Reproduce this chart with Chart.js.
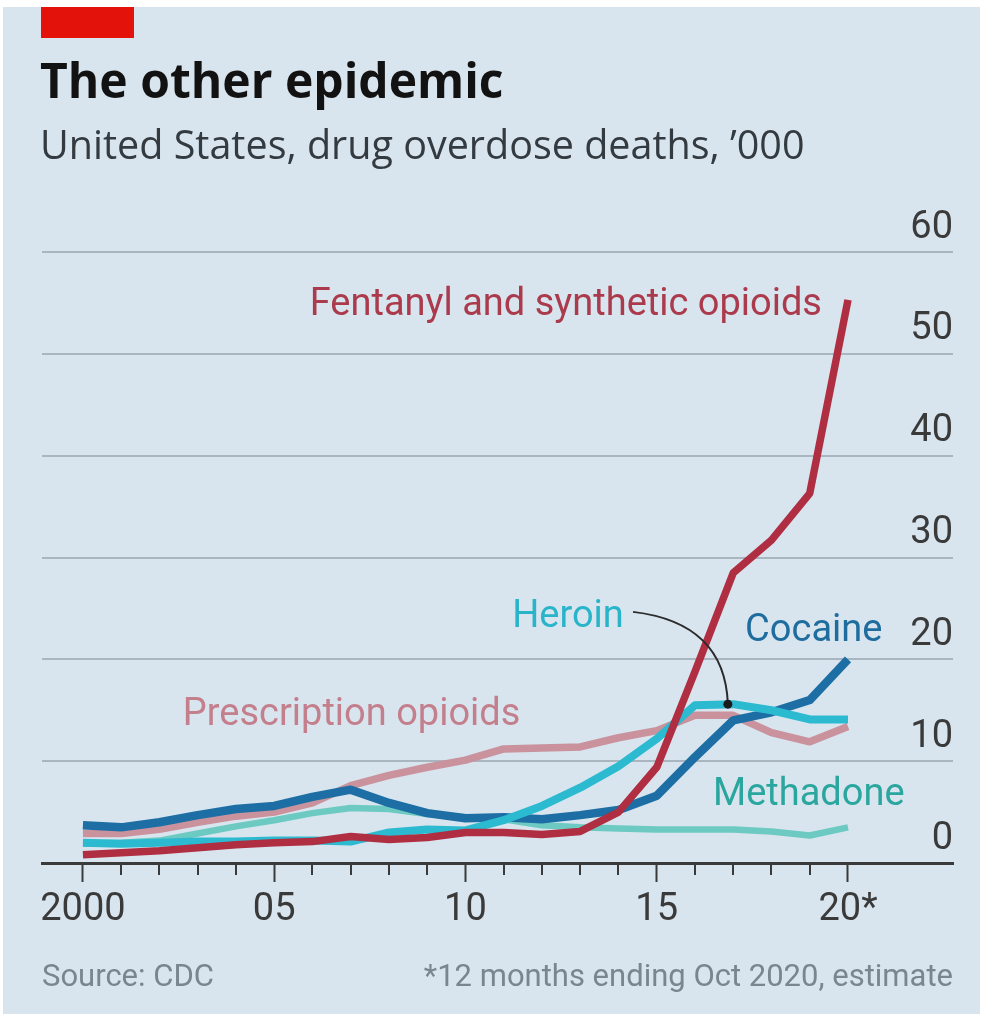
<!DOCTYPE html>
<html>
<head>
<meta charset="utf-8">
<script src="https://cdn.jsdelivr.net/npm/chart.js@4.4.1/dist/chart.umd.min.js"></script>
<style>
  html, body { margin: 0; padding: 0; background: #fff; }
  #panel { position: absolute; left: 3px; top: 7px; width: 977px; height: 1007px; background: #d8e5ee; }
  #redbar { position: absolute; left: 41px; top: 7px; width: 93px; height: 31px; background: #e3120b; }
  #chart { position: absolute; left: 0; top: 0; }
</style>
</head>
<body>
<div id="panel"></div>
<div id="redbar"></div>
<canvas id="chart" width="986" height="1020"></canvas>
<script>
// deaths, thousands
const years = [2000, 2001, 2002, 2003, 2004, 2005, 2006, 2007, 2008, 2009, 2010,
               2011, 2012, 2013, 2014, 2015, 2016, 2017, 2018, 2019, 2020];
const fentanyl     = [0.8, 1.0, 1.2, 1.5, 1.8, 2.0, 2.1, 2.6, 2.3, 2.5, 3.0, 3.0, 2.8, 3.1, 5.0, 9.4, 18.8, 28.5, 31.7, 36.3, 55.3];
const heroin       = [2.0, 1.9, 2.0, 2.1, 2.1, 2.2, 2.2, 2.1, 3.0, 3.3, 3.2, 4.2, 5.6, 7.4, 9.5, 12.2, 15.5, 15.6, 15.0, 14.1, 14.1];
const cocaine      = [3.7, 3.5, 4.0, 4.7, 5.3, 5.6, 6.5, 7.2, 5.9, 4.9, 4.4, 4.5, 4.3, 4.7, 5.2, 6.6, 10.4, 14.0, 14.8, 16.0, 20.0];
const methadone    = [1.9, 2.0, 2.2, 2.9, 3.6, 4.2, 4.9, 5.4, 5.3, 4.8, 4.5, 4.3, 3.7, 3.5, 3.4, 3.3, 3.3, 3.3, 3.1, 2.7, 3.5];
const prescription = [2.9, 2.9, 3.3, 4.0, 4.6, 5.0, 5.9, 7.6, 8.6, 9.4, 10.1, 11.2, 11.3, 11.4, 12.3, 13.0, 14.5, 14.5, 12.8, 11.9, 13.4];

const majorYears = [2000, 2005, 2010, 2015, 2020];
const majorLabels = ['2000', '05', '10', '15', '20*'];
const yTicks = [0, 10, 20, 30, 40, 50, 60];

const titleText = 'The other epidemic';
const subtitleText = 'United States, drug overdose deaths, \u2019000';
const sourceText = 'Source: CDC';
const noteText = '*12 months ending Oct 2020, estimate';

// series names, anchored in data units
const seriesLabels = [
  { text: 'Fentanyl and synthetic opioids', year: 2019.32, value: 53.8, color: '#ab3a4c', align: 'right' },
  { text: 'Heroin', year: 2011.22, value: 23.2, color: '#2ab4ca', align: 'left' },
  { text: 'Cocaine', year: 2017.31, value: 21.8, color: '#1f6c9f', align: 'left' },
  { text: 'Prescription opioids', year: 2002.61, value: 13.6, color: '#c47f8d', align: 'left' },
  { text: 'Methadone', year: 2016.47, value: 5.7, color: '#2aa69e', align: 'left' }
];
const heroinPointer = { from: [2014.38, 24.66], ctrl: [2016.78, 23.6], to: [2016.86, 15.6] };

const LABEL_FONT = 'Roboto, "Noto Sans", sans-serif';
const HEAD_FONT = '"Open Sans", Lato, sans-serif';
const INK = '#3a3a3a';

const toXY = (arr) => arr.map((v, i) => ({ x: years[i], y: v }));

const annotations = {
  id: 'annotations',
  afterDraw(chart) {
    const ctx = chart.ctx;
    const xs = chart.scales.x, ys = chart.scales.y;

    // minor year ticks
    ctx.save();
    ctx.strokeStyle = INK;
    ctx.lineWidth = 2;
    const base = chart.chartArea.bottom;
    years.forEach(yr => {
      if (majorYears.includes(yr)) return;
      const px = Math.round(xs.getPixelForValue(yr));
      ctx.beginPath();
      ctx.moveTo(px, base);
      ctx.lineTo(px, base + 12);
      ctx.stroke();
    });
    ctx.restore();

    // series labels
    ctx.save();
    ctx.font = '38px ' + LABEL_FONT;
    ctx.textBaseline = 'alphabetic';
    seriesLabels.forEach(l => {
      ctx.fillStyle = l.color;
      ctx.textAlign = l.align;
      ctx.fillText(l.text, xs.getPixelForValue(l.year), ys.getPixelForValue(l.value));
    });
    ctx.restore();

    // heroin pointer
    const p = (pt) => [xs.getPixelForValue(pt[0]), ys.getPixelForValue(pt[1])];
    const a = p(heroinPointer.from), c = p(heroinPointer.ctrl), b = p(heroinPointer.to);
    ctx.save();
    ctx.strokeStyle = '#2b2b2b';
    ctx.lineWidth = 2;
    ctx.beginPath();
    ctx.moveTo(a[0], a[1]);
    ctx.quadraticCurveTo(c[0], c[1], b[0], b[1]);
    ctx.stroke();
    ctx.fillStyle = '#1b1b1b';
    ctx.beginPath();
    ctx.arc(b[0], b[1], 4.5, 0, Math.PI * 2);
    ctx.fill();
    ctx.restore();

    // headings and footer
    ctx.save();
    ctx.textBaseline = 'alphabetic';
    ctx.textAlign = 'left';
    ctx.fillStyle = '#121212';
    ctx.font = 'bold 48px ' + HEAD_FONT;
    ctx.fillText(titleText, 40, 98);
    ctx.fillStyle = '#333a40';
    ctx.font = '39.5px ' + HEAD_FONT;
    ctx.fillText(subtitleText, 40, 159);
    ctx.fillStyle = '#7b858d';
    ctx.font = '31px ' + LABEL_FONT;
    ctx.fillText(sourceText, 42, 986);
    ctx.textAlign = 'right';
    ctx.fillText(noteText, 953, 986);
    ctx.restore();
  }
};

new Chart(document.getElementById('chart'), {
  type: 'line',
  data: {
    datasets: [
      { label: 'Fentanyl and synthetic opioids', data: toXY(fentanyl), borderColor: '#b02e42', borderWidth: 7.5, order: 1 },
      { label: 'Heroin', data: toXY(heroin), borderColor: '#2bbad0', borderWidth: 8, order: 2 },
      { label: 'Cocaine', data: toXY(cocaine), borderColor: '#1c6ea4', borderWidth: 8.5, order: 3 },
      { label: 'Methadone', data: toXY(methadone), borderColor: '#6ccac2', borderWidth: 6.5, order: 4 },
      { label: 'Prescription opioids', data: toXY(prescription), borderColor: '#c9929c', borderWidth: 7.5, order: 5 }
    ]
  },
  options: {
    responsive: false,
    animation: false,
    events: [],
    layout: { padding: { left: 42, right: 33, top: 252, bottom: 57 } },
    elements: {
      point: { radius: 0 },
      line: { tension: 0, borderJoinStyle: 'round', borderCapStyle: 'butt', fill: false }
    },
    plugins: {
      legend: { display: false },
      tooltip: { enabled: false },
      title: { display: false }
    },
    scales: {
      x: {
        type: 'linear',
        min: 1998.93,
        max: 2022.745,
        afterBuildTicks: (scale) => { scale.ticks = years.map(v => ({ value: v })); },
        afterFit: (scale) => { scale.paddingLeft = 0; scale.paddingRight = 0; scale.height = 100; },
        ticks: {
          autoSkip: false,
          maxRotation: 0,
          includeBounds: false,
          padding: 6,
          color: INK,
          font: { family: LABEL_FONT, size: 38 },
          callback: (v) => {
            const i = majorYears.indexOf(v);
            return i >= 0 ? majorLabels[i] : '';
          }
        },
        grid: {
          drawOnChartArea: false,
          drawTicks: true,
          tickLength: 19,
          tickWidth: 2,
          tickColor: (c) => (c.tick && majorYears.includes(c.tick.value)) ? INK : 'rgba(0,0,0,0)'
        },
        border: { display: true, color: INK, width: 3 }
      },
      y: {
        position: 'right',
        min: 0,
        max: 60,
        afterBuildTicks: (scale) => { scale.ticks = yTicks.map(v => ({ value: v })); },
        afterFit: (scale) => { scale.paddingTop = 0; scale.paddingBottom = 0; scale.width = 0; },
        ticks: {
          mirror: true,
          padding: 0,
          labelOffset: -24,
          color: INK,
          font: { family: LABEL_FONT, size: 38 }
        },
        grid: {
          drawTicks: false,
          lineWidth: 2,
          color: (c) => (c.tick && c.tick.value === 0) ? 'rgba(0,0,0,0)' : '#a9b6c0'
        },
        border: { display: false }
      }
    }
  },
  plugins: [annotations]
});
</script>
</body>
</html>
